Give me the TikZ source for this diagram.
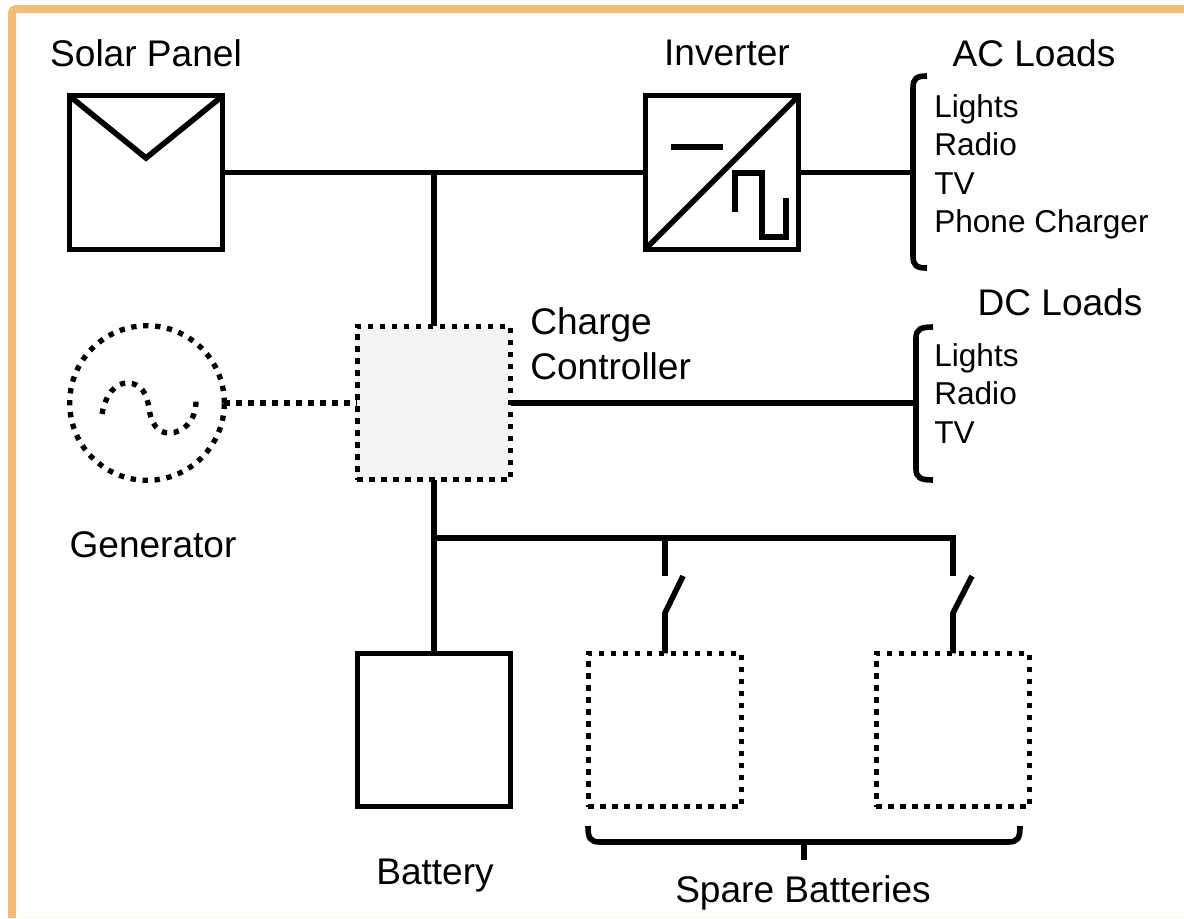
\documentclass[tikz,border=0pt]{standalone}
\usepackage{fontspec}
\setmainfont{Liberation Sans}
\usetikzlibrary{positioning}

\definecolor{framecolor}{HTML}{F0BE78}
\definecolor{controlgray}{HTML}{F2F2F2}

\begin{document}
\begin{tikzpicture}[
        x=0.75pt,
        y=-0.75pt,
        wire/.style={
            line width=4.2pt,
            black,
        },
        dotwire/.style={
            line width=4pt,
            black,
            dash pattern=on 4pt off 5pt,
        },
        box/.style={
            rectangle,
            draw,
            line width=3.8pt,
            black,
            outer sep=0pt,
            minimum size=115pt,
        },
        dotbox/.style={
            box,
            dotwire,
        },
        title/.style={
            font=\fontsize{27.8pt}{33pt}\selectfont,
            inner sep=0pt,
        },
        loads/.style={
            font=\fontsize{23.7pt}{28.9pt}\selectfont,
            align=left,
            anchor=north west,
            inner sep=0pt,
        }
    ]

    \useasboundingbox (0,0) rectangle (1184,918);

    % frame
    \draw [framecolor, line width=6pt, rounded corners=3pt] (12,918) -- (12,9) -- (1184,9);
    \draw [black!4!yellow!8, line width=0.8pt] (16,917) -- (1184,917);

    \node (panel) at (146,172.5) [box] {};
    \node (inverter) at (722,172.5) [box] {};
    \node (controller) at (434,403) [dotbox, fill=controlgray] {};
    \node (generator) at (147,403) [dotbox, circle, minimum size=116pt] {};
    \node (battery) at (434,730) [box] {};
    \node (spare1) at (665,730) [dotbox] {};
    \node (spare2) at (953,730) [dotbox] {};

    \coordinate (top) at (434,172.5);
    \coordinate (bottom) at (434,538);
    \coordinate (acbrace) at (913,172.5);
    \coordinate (dcbrace) at (915,403);
    \coordinate (sw1in) at (665,538);
    \coordinate (sw1out) at (665,576);
    \coordinate (sw1knee) at (665,613);
    \coordinate (sw1blade) at (683,576);
    \coordinate (sw2in) at (953,538);
    \coordinate (sw2out) at (953,576);
    \coordinate (sw2knee) at (953,613);
    \coordinate (sw2blade) at (972,576);

    \draw [wire] (panel) -- (inverter);
    \draw [wire] (top) -- (controller);
    \draw [wire] (inverter) -- (acbrace);
    \draw [wire] (controller) -- (dcbrace);
    \draw [dotwire] (generator) -- (controller);
    \draw [wire] (controller) -- (battery);
    \draw [wire] (bottom) -- (sw1in) -- (sw2in) -- (sw2out);
    \draw [wire] (sw1in) -- (sw1out);
    \draw [wire] (sw1blade) -- (sw1knee) -- (spare1);
    \draw [wire] (sw2blade) -- (sw2knee) -- (spare2);

    % symbols
    \draw [wire] (panel.north west) -- (146,158) -- (panel.north east);
    \draw [wire] (inverter.south west) -- (inverter.north east);
    \draw [wire] (671,147) -- (723,147);
    \draw [wire] (735,212) -- (735,173) -- (762,173) -- (762,237) -- (786,237) -- (786,198);
    \draw [dotwire] (102,414) .. controls (106,393) and (116,383) .. (127,383)
        .. controls (142,383) and (147,395) .. (149,408)
        .. controls (151,424) and (158,433) .. (169,433)
        .. controls (184,433) and (196,420) .. (196,401);

    % braces
    \draw [wire] (927,76) .. controls (917,76) and (913,78) .. (913,88) -- (913,256)
        .. controls (913,266) and (917,268) .. (927,268);
    \draw [wire] (933,327) .. controls (921,327) and (916,329) .. (916,338) -- (916,469)
        .. controls (916,478) and (921,480) .. (933,480);
    \draw [wire] (588,826) .. controls (588,838) and (590,842) .. (600,842) -- (1008,842)
        .. controls (1018,842) and (1020,838) .. (1020,826);
    \draw [wire] (804,842) -- (804,860);

    % labels
    \node (paneltext) at (146,53) [title] {Solar Panel};
    \node (invertertext) at (727,53) [title] {Inverter};
    \node (actext) at (1034,53) [title] {AC Loads};
    \node (dctext) at (1060,302) [title] {DC Loads};
    \node (controllertext) at (530,307) [title, anchor=north west, align=left] {Charge\\[0.8pt]Controller};
    \node (generatortext) at (153,545) [title] {Generator};
    \node (batterytext) at (435,876) [title] {Battery};
    \node (sparetext) at (803,893) [title] {Spare Batteries};
    \node (aclist) at (934,94) [loads] {Lights\\Radio\\TV\\Phone Charger};
    \node (dclist) at (934,343) [loads] {Lights\\Radio\\TV};

\end{tikzpicture}
\end{document}
